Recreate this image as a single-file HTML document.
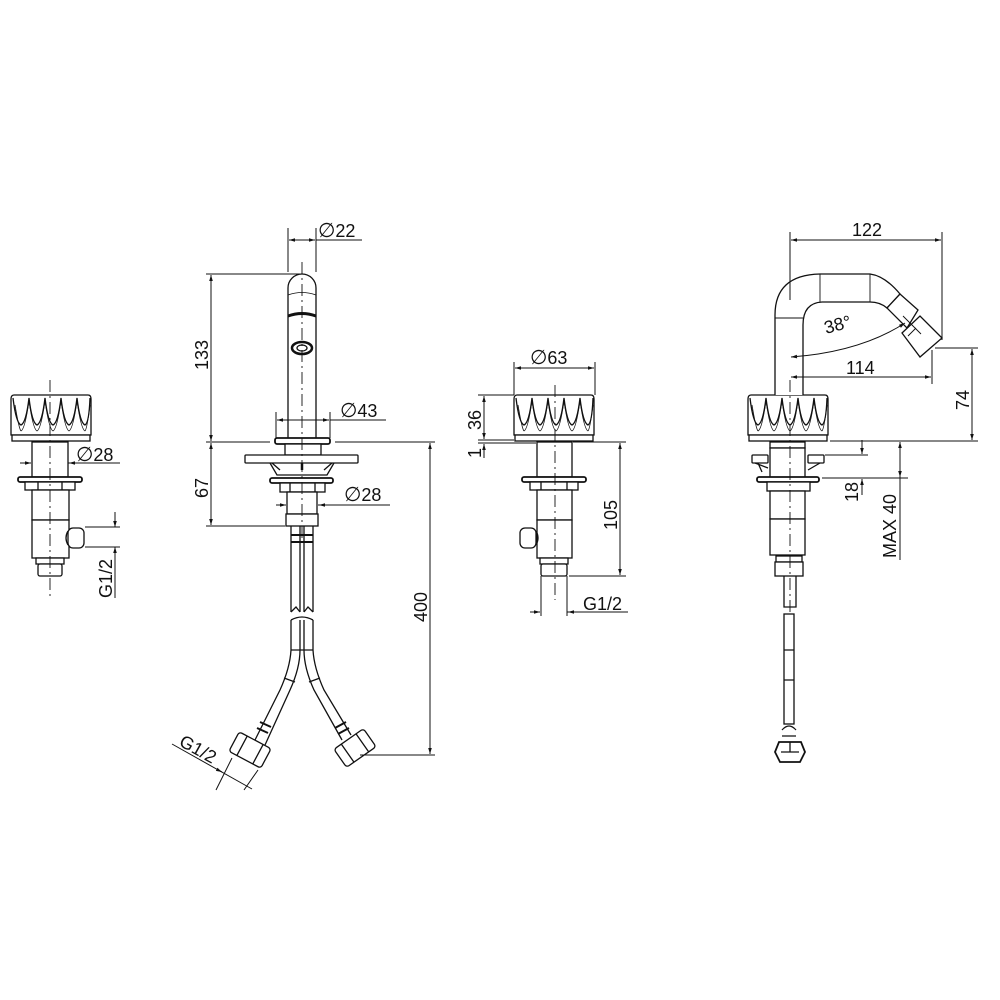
<!DOCTYPE html>
<html><head><meta charset="utf-8"><style>
html,body{margin:0;padding:0;background:#fff}
svg{display:block}
text{font-family:"Liberation Sans",Arial,sans-serif;font-size:18px;fill:#111}
.d{font-family:"DejaVu Sans",sans-serif;font-size:20px}
</style></head><body>
<svg width="1000" height="1000" viewBox="0 0 1000 1000" xmlns="http://www.w3.org/2000/svg">
<defs>
<marker id="a" viewBox="0 0 10 10" refX="10" refY="5" markerWidth="8" markerHeight="6" orient="auto-start-reverse"><path d="M0,2 L10,5 L0,8 z" fill="#111"/></marker>
<g id="knob" fill="none" stroke="#111" stroke-width="1.3">
<path d="M3,0 H77 Q80,0 80,4 V40 H0 V4 Q0,0 3,0 Z" fill="#fff"/>
<rect x="1" y="40" width="78" height="6" fill="#fff"/>
<path d="M2,3 Q5,28 10,30 Q15,28 18,3 Q21,28 26,30 Q31,28 34,3 Q37,28 42,30 Q47,28 50,3 Q53,28 58,30 Q63,28 66,3 Q69,28 74,30 Q78,28 79,3"/>
<path d="M4,10 Q8,34 10,36 M18,6 Q14,34 10,36 M18,6 Q22,34 26,36 M34,6 Q30,34 26,36 M34,6 Q38,34 42,36 M50,6 Q46,34 42,36 M50,6 Q54,34 58,36 M66,6 Q62,34 58,36 M66,6 Q70,34 74,36 M79,10 Q76,34 74,36" stroke-width="0.8"/>
</g>
</defs>
<g fill="none" stroke="#111" stroke-width="1.3">

<!-- LEFT HANDLE -->
<use href="#knob" transform="translate(11,395)"/>
<rect x="32" y="442" width="36" height="35" fill="#fff"/>
<rect x="18" y="477" width="64" height="5" rx="2" fill="#fff" stroke-width="1.8"/>
<rect x="25" y="482" width="50" height="8" fill="#fff"/>
<path d="M38,482 V490 M62,482 V490"/>
<rect x="32" y="490" width="37" height="30" fill="#fff"/>
<rect x="32" y="520" width="37" height="38" fill="#fff"/>
<rect x="68" y="528" width="16" height="20" rx="5" fill="#fff"/>
<path d="M68,531 Q64,538 68,545"/>
<rect x="36" y="558" width="28" height="6" fill="#fff"/>
<rect x="38" y="564" width="24" height="12" rx="2" fill="#fff"/>
<path d="M50,380 V600" stroke-dasharray="12,4,2,4" stroke-width="0.9"/>
<path d="M20,463 H31" marker-end="url(#a)" stroke-width="1"/>
<path d="M68,463 H120" stroke-width="1"/><path d="M78,463 H69" marker-end="url(#a)" stroke-width="1"/>
<path d="M85,527 H120 M85,547 H120 M115,512 V527 M115,547 V598" stroke-width="1"/>
<path d="M115,514 V527" marker-end="url(#a)" stroke-width="1"/>
<path d="M115,560 V547" marker-end="url(#a)" stroke-width="1"/>

<!-- BASIN SPOUT -->
<path d="M288,438 V288 A14,14 0 0 1 316,288 V438" fill="#fff"/>
<path d="M288,295 Q302,290 316,295" stroke-width="0.8"/>
<path d="M288,316 Q302,311 316,316" stroke-width="3"/>
<ellipse cx="302" cy="348" rx="10" ry="6" stroke-width="2.5"/>
<ellipse cx="302" cy="348" rx="5" ry="3"/>
<rect x="275" y="438" width="55" height="6" rx="2" fill="#fff" stroke-width="1.8"/>
<rect x="285" y="444" width="36" height="11" fill="#fff"/>
<rect x="245" y="455" width="113" height="8" rx="1" fill="#fff"/>
<path d="M270,463 L277,475 H327 L334,463 M272,463 L280,470 M332,463 L324,470"/>
<path d="M302,463 V470" stroke-width="2.5"/>
<rect x="270" y="478" width="63" height="5" rx="2" fill="#fff" stroke-width="1.8"/>
<rect x="280" y="483" width="45" height="9" fill="#fff"/>
<path d="M290,483 V492 M315,483 V492"/>
<rect x="287" y="492" width="30" height="22" fill="#fff"/>
<rect x="286" y="514" width="32" height="12" fill="#fff"/>
<path d="M291,526 V612 M300,526 V612 M304,526 V612 M313,526 V612"/>
<path d="M291,535 H313 M291,542 H313" stroke-width="2"/>
<path d="M291,612 L296,607 L300,612 M304,612 L308,607 L313,612"/>
<path d="M291,620 Q302,614 313,620"/>
<path d="M291,620 V650 Q290,668 280,690 L255,740 M300,620 V650 Q300,668 290,690 L265,745"/>
<path d="M304,620 V650 Q304,668 314,690 L342,740 M313,620 V650 Q314,668 324,690 L351,735"/>
<path d="M291,650 H313 M284,678 L295,682 M309,682 L320,678"/>
<path d="M257,728 L268,733 M260,722 L271,727 M335,728 L346,722 M338,734 L349,728" stroke-width="2"/>
<g transform="rotate(28 250 750)"><rect x="232" y="739" width="36" height="22" rx="3" fill="#fff"/><path d="M241,739 V761 M259,739 V761"/></g>
<g transform="rotate(-35 355 748)"><rect x="337" y="737" width="36" height="22" rx="3" fill="#fff"/><path d="M346,737 V759 M364,737 V759"/></g>
<path d="M302,262 V540" stroke-dasharray="12,4,2,4" stroke-width="0.9"/>
<!-- spout dims -->
<path d="M288,228 V272 M316,228 V272" stroke-width="1"/>
<path d="M302,240 H289" marker-end="url(#a)" stroke-width="1"/>
<path d="M302,240 H315" marker-end="url(#a)" stroke-width="1"/>
<path d="M316,240 H362" stroke-width="1"/>
<path d="M206,274 H300 M206,442 H270 M206,526 H285" stroke-width="1"/>
<path d="M211,300 V275" marker-end="url(#a)" stroke-width="1"/><path d="M211,300 V441" marker-end="url(#a)" stroke-width="1"/>
<path d="M211,480 V443" marker-end="url(#a)" stroke-width="1"/><path d="M211,480 V525" marker-end="url(#a)" stroke-width="1"/>
<path d="M276,412 V438 M330,412 V438" stroke-width="1"/>
<path d="M300,420 H277" marker-end="url(#a)" stroke-width="1"/><path d="M300,420 H329" marker-end="url(#a)" stroke-width="1"/>
<path d="M330,420 H386" stroke-width="1"/>
<path d="M276,505 H286" marker-end="url(#a)" stroke-width="1"/>
<path d="M318,505 H390" stroke-width="1"/><path d="M328,505 H319" marker-end="url(#a)" stroke-width="1"/>
<path d="M335,442 H435 M360,755 H435" stroke-width="1"/>
<path d="M430,600 V443" marker-end="url(#a)" stroke-width="1"/><path d="M430,600 V754" marker-end="url(#a)" stroke-width="1"/>
<path d="M232,758 L216,790 M258,770 L244,790" stroke-width="1"/>
<path d="M172,744 L252,789" stroke-width="1"/>
<path d="M218,770 L222,772" marker-end="url(#a)" stroke-width="1"/>

<!-- MIDDLE HANDLE -->
<use href="#knob" transform="translate(514,395)"/>
<rect x="537" y="442" width="35" height="35" fill="#fff"/>
<rect x="522" y="477" width="64" height="5" rx="2" fill="#fff" stroke-width="1.8"/>
<rect x="530" y="482" width="48" height="8" fill="#fff"/>
<path d="M541,482 V490 M567,482 V490"/>
<rect x="537" y="490" width="35" height="30" fill="#fff"/>
<rect x="537" y="520" width="35" height="38" fill="#fff"/>
<rect x="520" y="528" width="16" height="20" rx="5" fill="#fff"/>
<path d="M536,531 Q540,538 536,545"/>
<rect x="540" y="558" width="28" height="6" fill="#fff"/>
<rect x="541" y="564" width="26" height="12" rx="2" fill="#fff"/>
<path d="M555,385 V600" stroke-dasharray="12,4,2,4" stroke-width="0.9"/>
<path d="M514,362 V395 M595,362 V395" stroke-width="1"/>
<path d="M554,368 H515" marker-end="url(#a)" stroke-width="1"/><path d="M554,368 H594" marker-end="url(#a)" stroke-width="1"/>
<path d="M478,395 H514 M478,440 H514 M478,443 H536" stroke-width="1"/>
<path d="M484,420 V396" marker-end="url(#a)" stroke-width="1"/><path d="M484,420 V439" marker-end="url(#a)" stroke-width="1"/>
<path d="M484,458 V444" marker-end="url(#a)" stroke-width="1"/>
<path d="M573,442 H626 M569,576 H626" stroke-width="1"/>
<path d="M620,510 V443" marker-end="url(#a)" stroke-width="1"/><path d="M620,510 V575" marker-end="url(#a)" stroke-width="1"/>
<path d="M541,576 V616 M567,576 V616" stroke-width="1"/>
<path d="M530,612 H540" marker-end="url(#a)" stroke-width="1"/>
<path d="M567,612 H628" stroke-width="1"/><path d="M578,612 H568" marker-end="url(#a)" stroke-width="1"/>

<!-- BIDET MIXER -->
<use href="#knob" transform="translate(748,395)"/>
<path d="M775,395 V315 Q775,275 820,274 H870 Q885,276 900,294 L887,308 Q880,302 870,302 H822 Q803,303 803,325 V395" fill="#fff"/>
<path d="M775,318 H803 M820,274 V302 M870,274 V302" stroke-width="0.9"/>
<path d="M887,308 L900,294 L918,310 L907,328 Z" fill="#fff"/>
<path d="M902,333 L920,316 L942,338 L920,357 Z" fill="#fff"/>
<path d="M903,316 L921,334 M908,336 L916,328" stroke-width="0.9"/>
<rect x="770" y="442" width="35" height="6" fill="#fff"/>
<rect x="770" y="448" width="35" height="30" fill="#fff"/>
<rect x="752" y="455" width="16" height="8" rx="1" fill="#fff"/>
<rect x="808" y="455" width="16" height="8" rx="1" fill="#fff"/>
<path d="M755,463 L768,468 M758,463 L762,472 M820,463 L808,470"/>
<rect x="757" y="477" width="62" height="5" rx="2" fill="#fff" stroke-width="1.8"/>
<rect x="767" y="482" width="43" height="9" fill="#fff"/>
<rect x="770" y="491" width="35" height="28" fill="#fff"/>
<rect x="770" y="519" width="35" height="36" fill="#fff"/>
<rect x="776" y="556" width="26" height="6" fill="#fff"/>
<rect x="775" y="562" width="28" height="14" fill="#fff"/>
<path d="M784,576 V607 H796 V576"/>
<rect x="784" y="614" width="10" height="110" fill="#fff"/>
<path d="M784,650 H794 M784,680 H794 M782,730 Q789,722 796,730 M782,736 H796"/>
<path d="M779,742 H801 L805,752 L800,762 H780 L775,752 Z" fill="#fff" stroke-width="1.8"/>
<path d="M781,752 H799 M790,742 V752"/>
<path d="M790,380 V615" stroke-dasharray="12,4,2,4" stroke-width="0.9"/>
<!-- bidet dims -->
<path d="M790,232 V300 M942,232 V340" stroke-width="1"/>
<path d="M866,240 H791" marker-end="url(#a)" stroke-width="1"/><path d="M866,240 H941" marker-end="url(#a)" stroke-width="1"/>
<path d="M932,350 V384" stroke-width="1"/>
<path d="M862,377 H791" marker-end="url(#a)" stroke-width="1"/><path d="M862,377 H931" marker-end="url(#a)" stroke-width="1"/>
<path d="M791,357 Q860,352 905,323" stroke-width="1" marker-start="url(#a)" marker-end="url(#a)"/>
<path d="M935,348 H978 M830,441 H978" stroke-width="1"/>
<path d="M972,395 V349" marker-end="url(#a)" stroke-width="1"/><path d="M972,395 V440" marker-end="url(#a)" stroke-width="1"/>
<path d="M825,455 H868 M822,478 H908" stroke-width="1"/>
<path d="M862,440 V454" marker-end="url(#a)" stroke-width="1"/><path d="M862,495 V479" marker-end="url(#a)" stroke-width="1"/>
<path d="M900,442 V560" stroke-width="1"/>
<path d="M900,455 V442" marker-end="url(#a)" stroke-width="1"/><path d="M900,465 V477" marker-end="url(#a)" stroke-width="1"/>
</g>

<!-- TEXT -->
<g>
<text x="76" y="461"><tspan class="d">∅</tspan>28</text>
<text transform="translate(112,598) rotate(-90)">G1/2</text>
<text x="318" y="237"><tspan class="d">∅</tspan>22</text>
<text transform="translate(208,370) rotate(-90)">133</text>
<text transform="translate(208,498) rotate(-90)">67</text>
<text x="340" y="417"><tspan class="d">∅</tspan>43</text>
<text x="344" y="501"><tspan class="d">∅</tspan>28</text>
<text transform="translate(427,622) rotate(-90)">400</text>
<text transform="translate(178,745) rotate(29)">G1/2</text>
<text x="530" y="364"><tspan class="d">∅</tspan>63</text>
<text transform="translate(481,430) rotate(-90)">36</text>
<text transform="translate(481,458) rotate(-90)">1</text>
<text transform="translate(617,530) rotate(-90)">105</text>
<text x="583" y="610">G1/2</text>
<text x="852" y="236">122</text>
<text x="846" y="374">114</text>
<text transform="translate(826,334) rotate(-15)">38°</text>
<text transform="translate(969,410) rotate(-90)">74</text>
<text transform="translate(858,502) rotate(-90)">18</text>
<text transform="translate(896,558) rotate(-90)">MAX 40</text>
</g>
</svg>
</body></html>
